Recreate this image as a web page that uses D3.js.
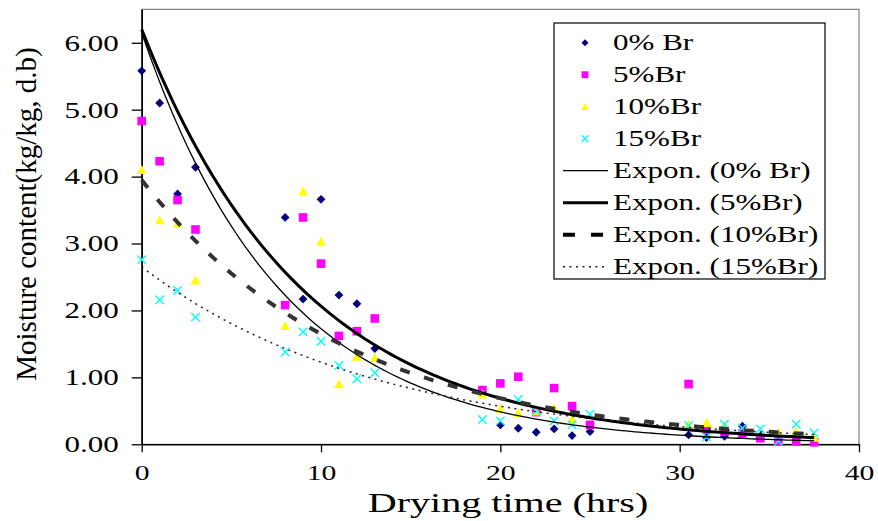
<!DOCTYPE html>
<html>
<head>
<meta charset="utf-8">
<script src="https://cdn.jsdelivr.net/npm/d3@7"></script>
<style>
  body { margin: 0; background: #fff; }
  svg { display: block; }
  text { font-family: "Liberation Serif", "Times New Roman", Tinos, serif; fill: #000; }
</style>
</head>
<body>
<div id="chart"></div>
<script>
// drying time (hrs), shared by all four series
const hours = [0, 1, 2, 3, 8, 9, 10, 11, 12, 13, 19, 20, 21, 22, 23, 24, 25,
               30.5, 31.5, 32.5, 33.5, 34.5, 35.5, 36.5, 37.5];

// moisture content (kg/kg, d.b), null where the point is hidden
const br0  = [5.58, 5.10, 3.74, 4.14, 3.39, 2.17, 3.66, 2.23, 2.10, 1.43, null, 0.29, 0.24, 0.18, 0.23, 0.13, 0.19,
              0.14, 0.10, 0.12, 0.27, 0.12, 0.07, null, null];
const br5  = [4.83, 4.23, 3.65, 3.21, 2.08, 3.39, 2.70, 1.62, 1.69, 1.88, 0.81, 0.91, 1.01, 0.48, 0.84, 0.57, 0.29,
              0.90, 0.22, 0.19, 0.16, 0.09, 0.05, 0.05, 0.03];
const br10 = [4.10, 3.35, 3.30, 2.45, 1.77, 3.78, 3.03, 0.90, 1.31, 1.29, 0.75, 0.53, 0.47, 0.49, 0.54, 0.38, null,
              0.30, 0.32, 0.28, null, null, 0.18, 0.19, 0.10];
const br15 = [2.76, 2.16, 2.30, 1.90, 1.38, 1.68, 1.54, 1.18, 0.98, 1.07, 0.37, 0.35, 0.67, 0.50, 0.35, 0.29, 0.45,
              0.28, 0.11, 0.30, 0.24, 0.23, 0.05, 0.30, 0.17];

const seriesNames = ["0% Br", "5%Br", "10%Br", "15%Br"];
const seriesValues = [br0, br5, br10, br15];

// exponential trendlines y = a * exp(-b * t)
const trendNames = ["Expon. (0% Br)", "Expon. (5%Br)", "Expon. (10%Br)", "Expon. (15%Br)"];
const trendA = [6.15, 6.2, 3.95, 2.65];
const trendB = [0.127, 0.110, 0.0873, 0.077];
const trendEnd = 37.5;

const yTicks = [0, 1, 2, 3, 4, 5, 6];
const xTicks = [0, 10, 20, 30, 40];

const W = 878, H = 521;
const plot = {left: 141.7, top: 9.3, right: 859, bottom: 444.3};
const STRETCH = 1.35;

const svg = d3.select("#chart").append("svg")
  .attr("width", W)
  .attr("height", H);

const x = d3.scaleLinear().domain([0, 40]).range([plot.left, plot.right]);
const y = d3.scaleLinear().domain([0, 6.5]).range([plot.bottom, plot.top]);

function widen(sel, k) {
  sel.each(function() {
    const w = this.getComputedTextLength();
    d3.select(this).attr("textLength", w * k).attr("lengthAdjust", "spacingAndGlyphs");
  });
}

// plot area frame
svg.append("rect")
  .attr("x", plot.left).attr("y", plot.top)
  .attr("width", plot.right - plot.left).attr("height", plot.bottom - plot.top)
  .attr("fill", "none").attr("stroke", "#666").attr("stroke-width", 1);

// axes
const yAxis = svg.append("g")
  .attr("transform", `translate(${plot.left},0)`)
  .call(d3.axisLeft(y).tickValues(yTicks).tickFormat(d3.format(".2f")).tickSize(10).tickSizeOuter(0).tickPadding(13));
const xAxis = svg.append("g")
  .attr("transform", `translate(0,${plot.bottom})`)
  .call(d3.axisBottom(x).tickValues(xTicks).tickFormat(d3.format("d")).tickSize(8).tickSizeOuter(0).tickPadding(12));

yAxis.selectAll(".tick text").attr("font-size", "23px");
xAxis.selectAll(".tick text").attr("font-size", "22px");
[yAxis, xAxis].forEach(a => {
  a.attr("font-family", null).attr("font-size", null);
  a.select(".domain").attr("stroke", "#000").attr("stroke-width", 1.6);
  a.selectAll(".tick line").attr("stroke", "#000").attr("stroke-width", 1.3);
  a.selectAll(".tick text").attr("fill", "#000").call(widen, STRETCH);
});

// axis titles
svg.append("text")
  .attr("x", 508).attr("y", 512)
  .attr("text-anchor", "middle")
  .attr("font-size", "27px")
  .text("Drying time (hrs)")
  .call(widen, STRETCH * 1.1);

svg.append("text")
  .attr("transform", "translate(36,214) rotate(-90)")
  .attr("text-anchor", "middle")
  .attr("font-size", "29px")
  .text("Moisture content(kg/kg, d.b)");

// markers
const markerColors = ["#000080", "#FF00FF", "#FFFF00", "#00FFFF"];

function drawMarker(g, i, cx, cy, k) {
  if (i === 0) {
    const s = 4.4 * k;
    g.append("path").attr("d", `M${cx},${cy - s}L${cx + s},${cy}L${cx},${cy + s}L${cx - s},${cy}Z`)
      .attr("fill", markerColors[0]);
  } else if (i === 1) {
    const s = 4.3 * k;
    g.append("rect").attr("x", cx - s).attr("y", cy - s).attr("width", 2 * s).attr("height", 2 * s)
      .attr("fill", markerColors[1]);
  } else if (i === 2) {
    const s = 4.8 * k;
    g.append("path").attr("d", `M${cx},${cy - s}L${cx + s},${cy + s * 0.85}L${cx - s},${cy + s * 0.85}Z`)
      .attr("fill", markerColors[2]);
  } else {
    const s = 4.2 * k;
    g.append("path").attr("d", `M${cx - s},${cy - s}L${cx + s},${cy + s}M${cx - s},${cy + s}L${cx + s},${cy - s}`)
      .attr("stroke", markerColors[3]).attr("stroke-width", 1.4).attr("fill", "none");
  }
}

const pts = svg.append("g");
seriesValues.forEach((vals, i) => {
  const g = pts.append("g");
  hours.forEach((t, j) => {
    if (vals[j] == null) return;
    drawMarker(g, i, x(t), y(vals[j]), 1);
  });
});

// trendlines
const trendStyles = [
  {stroke: "#000", width: 1.3, dash: null},
  {stroke: "#000", width: 3, dash: null},
  {stroke: "#333", width: 4, dash: "10,15"},
  {stroke: "#222", width: 1.5, dash: "2,4.5"}
];
const tSamples = d3.range(0, trendEnd + 0.001, 0.25);
const line = d3.line().x(d => x(d[0])).y(d => y(d[1]));

trendA.forEach((a, i) => {
  const b = trendB[i];
  const st = trendStyles[i];
  svg.append("path")
    .datum(tSamples.map(t => [t, a * Math.exp(-b * t)]))
    .attr("d", line)
    .attr("fill", "none")
    .attr("stroke", st.stroke)
    .attr("stroke-width", st.width)
    .attr("stroke-dasharray", st.dash);
});

// legend
const lg = {left: 554, top: 23, right: 825, bottom: 279};
svg.append("rect")
  .attr("x", lg.left).attr("y", lg.top)
  .attr("width", lg.right - lg.left).attr("height", lg.bottom - lg.top)
  .attr("fill", "#fff").attr("stroke", "#000").attr("stroke-width", 1.2);

const rowY = i => 42.7 + i * 32;
const legendG = svg.append("g");

seriesNames.forEach((name, i) => {
  drawMarker(legendG, i, 585, rowY(i), 0.8);
  legendG.append("text")
    .attr("x", 613).attr("y", rowY(i) + 7.5)
    .attr("font-size", "23px")
    .text(name)
    .call(widen, STRETCH);
});

trendNames.forEach((name, i) => {
  const st = trendStyles[i];
  const ry = rowY(i + 4);
  legendG.append("line")
    .attr("x1", 563).attr("x2", 608).attr("y1", ry).attr("y2", ry)
    .attr("stroke", i === 2 ? "#000" : st.stroke)
    .attr("stroke-width", st.width)
    .attr("stroke-dasharray", i === 2 ? "12,16" : st.dash);
  legendG.append("text")
    .attr("x", 613).attr("y", ry + 7.5)
    .attr("font-size", "23px")
    .text(name)
    .call(widen, STRETCH);
});
</script>
</body>
</html>
